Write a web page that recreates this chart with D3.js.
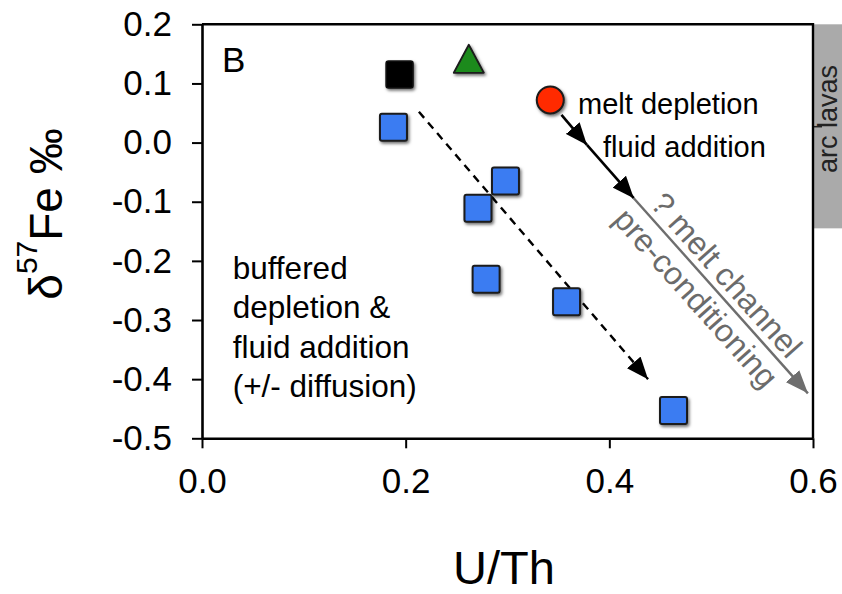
<!DOCTYPE html>
<html>
<head>
<meta charset="utf-8">
<script src="https://cdn.jsdelivr.net/npm/d3@7/dist/d3.min.js"></script>
<style>
	body { margin: 0; background: #fff; }
	text { font-family: "Liberation Sans", Arial, Helvetica, sans-serif; }
</style>
</head>
<body>
<svg id="chart" width="842" height="594"></svg>
<script>
// axis ticks
var xTicks = [0.0, 0.2, 0.4, 0.6];
var xTickLabels = ["0.0", "0.2", "0.4", "0.6"];
var yTicks = [0.2, 0.1, 0.0, -0.1, -0.2, -0.3, -0.4, -0.5];
var yTickLabels = ["0.2", "0.1", "0.0", "-0.1", "-0.2", "-0.3", "-0.4", "-0.5"];

// samples (U/Th, d57Fe)
var blueU  = [0.188, 0.298, 0.271, 0.279, 0.358, 0.463];
var blueFe = [0.026, -0.065, -0.111, -0.231, -0.269, -0.453];
var blackU  = [0.194];
var blackFe = [0.115];
var greenU  = [0.262];
var greenFe = [0.140];
var redU  = [0.342];
var redFe = [0.072];

// trend arrows
var dashedArrow  = [[0.213, 0.052], [0.438, -0.400]];
var meltArrow    = [[0.353, 0.047], [0.378, -0.004], [0.424, -0.094]];
var channelArrow = [[0.424, -0.094], [0.595, -0.424]];

// arc lavas range (d57Fe)
var arcLavas = [0.2, -0.145];

var svg = d3.select("#chart");

var x = d3.scaleLinear().domain([0, 0.6]).range([202, 813]);
var y = d3.scaleLinear().domain([0.2, -0.5]).range([24.3, 438.3]);

/*
 * drop shadow and arrow heads
 */
var defs = svg.append("defs");
var f = defs.append("filter").attr("id", "shadow")
	.attr("x", "-40%").attr("y", "-40%").attr("width", "180%").attr("height", "180%");
f.append("feDropShadow")
	.attr("dx", 1.5).attr("dy", 2).attr("stdDeviation", 1.8)
	.attr("flood-color", "#000").attr("flood-opacity", 0.55);

function marker(id, color, len, half) {
	defs.append("marker")
		.attr("id", id)
		.attr("markerUnits", "userSpaceOnUse")
		.attr("viewBox", (-len) + " " + (-half) + " " + len + " " + (2 * half))
		.attr("refX", 0).attr("refY", 0)
		.attr("markerWidth", len).attr("markerHeight", 2 * half)
		.attr("orient", "auto")
		.append("path")
			.attr("d", "M0,0L" + (-len) + "," + (-half) + "L" + (-len) + "," + half + "Z")
			.attr("fill", color)
			.attr("stroke", "none");
}
marker("headBlack", "#000", 22, 9);
marker("headGray", "#6e6e6e", 23, 9);

// arc lavas bar
svg.append("rect")
	.attr("x", x(0.6))
	.attr("y", y(arcLavas[0]))
	.attr("width", 842 - x(0.6))
	.attr("height", y(arcLavas[1]) - y(arcLavas[0]))
	.attr("fill", "#aaaaaa");
svg.append("line")
	.attr("x1", x(0.6)).attr("x2", x(0.6) + 9)
	.attr("y1", 126.7).attr("y2", 126.7)
	.attr("stroke", "#222").attr("stroke-width", 1.5);
svg.append("text")
	.attr("transform", "translate(837,119) rotate(-90)")
	.attr("text-anchor", "middle")
	.attr("font-size", 27)
	.attr("fill", "#222")
	.text("arc lavas");

/*
 * axes and frame
 */
var xAxis = d3.axisBottom(x)
	.tickValues(xTicks)
	.tickSize(10)
	.tickSizeOuter(0)
	.tickPadding(20)
	.tickFormat(function(d, i) { return xTickLabels[i]; });

var yAxis = d3.axisLeft(y)
	.tickValues(yTicks)
	.tickSize(10)
	.tickSizeOuter(0)
	.tickPadding(20)
	.tickFormat(function(d, i) { return yTickLabels[i]; });

var gx = svg.append("g").attr("transform", "translate(0," + y(-0.5) + ")").call(xAxis);
var gy = svg.append("g").attr("transform", "translate(" + x(0) + ",0)").call(yAxis);

[gx, gy].forEach(function(g) {
	g.select(".domain").attr("stroke", "#000").attr("stroke-width", 2.6);
	g.selectAll(".tick line").attr("stroke", "#000").attr("stroke-width", 2);
	g.selectAll(".tick text")
		.attr("font-size", 35)
		.attr("font-family", "'Liberation Sans', Arial, sans-serif")
		.attr("fill", "#000");
});

svg.append("path")
	.attr("d", "M" + x(0) + "," + y(0.2) + "H" + x(0.6) + "V" + y(-0.5))
	.attr("fill", "none")
	.attr("stroke", "#000")
	.attr("stroke-width", 2.4);

// axis titles
svg.append("text")
	.attr("x", 504)
	.attr("y", 584)
	.attr("text-anchor", "middle")
	.attr("font-size", 47)
	.text("U/Th");

var ylab = svg.append("text")
	.attr("transform", "translate(62,214) rotate(-90)")
	.attr("text-anchor", "middle")
	.attr("font-size", 46);
ylab.append("tspan").text("\u03b4");
ylab.append("tspan").attr("font-size", 30).attr("dy", -25).text("57");
ylab.append("tspan").attr("dy", 25).text("Fe \u2030");

/*
 * arrows
 */
var line = d3.line()
	.x(function(d) { return x(d[0]); })
	.y(function(d) { return y(d[1]); });

svg.append("path")
	.attr("d", line(dashedArrow))
	.attr("fill", "none")
	.attr("stroke", "#000")
	.attr("stroke-width", 2.4)
	.attr("stroke-dasharray", "8,6")
	.attr("marker-end", "url(#headBlack)");

svg.append("path")
	.attr("d", line(channelArrow))
	.attr("fill", "none")
	.attr("stroke", "#6e6e6e")
	.attr("stroke-width", 2.4)
	.attr("marker-end", "url(#headGray)");

for (var i = 0; i < meltArrow.length - 1; i++) {
	svg.append("path")
		.attr("d", line([meltArrow[i], meltArrow[i + 1]]))
		.attr("fill", "none")
		.attr("stroke", "#000")
		.attr("stroke-width", 2.6)
		.attr("marker-end", "url(#headBlack)");
}

// diagonal labels along the channel arrow
var p0 = [x(channelArrow[0][0]), y(channelArrow[0][1])];
var p1 = [x(channelArrow[1][0]), y(channelArrow[1][1])];
var angle = Math.atan2(p1[1] - p0[1], p1[0] - p0[0]) * 180 / Math.PI;
var diag = svg.append("g")
	.attr("transform", "translate(" + p0[0] + "," + p0[1] + ") rotate(" + angle + ")");
diag.append("text")
	.attr("x", 119).attr("y", -7)
	.attr("text-anchor", "middle")
	.attr("font-size", 32)
	.attr("fill", "#6b6b6b")
	.text("? melt channel");
diag.append("text")
	.attr("x", 116).attr("y", 31)
	.attr("text-anchor", "middle")
	.attr("font-size", 32)
	.attr("fill", "#6b6b6b")
	.text("pre-conditioning");

/*
 * sample symbols
 */
var blue = blueU.map(function(d, i) { return [d, blueFe[i]]; });
svg.append("g").selectAll("rect")
	.data(blue).enter()
	.append("rect")
		.attr("x", function(d) { return x(d[0]) - 13.5; })
		.attr("y", function(d) { return y(d[1]) - 13.5; })
		.attr("width", 27)
		.attr("height", 27)
		.attr("rx", 2)
		.attr("fill", "#3b7cf2")
		.attr("stroke", "#1a1a1a")
		.attr("stroke-width", 2)
		.attr("filter", "url(#shadow)");

var black = blackU.map(function(d, i) { return [d, blackFe[i]]; });
svg.append("g").selectAll("rect")
	.data(black).enter()
	.append("rect")
		.attr("x", function(d) { return x(d[0]) - 13.5; })
		.attr("y", function(d) { return y(d[1]) - 13.5; })
		.attr("width", 27)
		.attr("height", 27)
		.attr("rx", 2.5)
		.attr("fill", "#000")
		.attr("stroke", "#111")
		.attr("stroke-width", 1.5)
		.attr("filter", "url(#shadow)");

var green = greenU.map(function(d, i) { return [d, greenFe[i]]; });
svg.append("g").selectAll("path")
	.data(green).enter()
	.append("path")
		.attr("transform", function(d) { return "translate(" + x(d[0]) + "," + y(d[1]) + ")"; })
		.attr("d", "M0,-15L15,13L-15,13Z")
		.attr("fill", "#1c8a1c")
		.attr("stroke", "#1a1a1a")
		.attr("stroke-width", 1.8)
		.attr("stroke-linejoin", "round")
		.attr("filter", "url(#shadow)");

var red = redU.map(function(d, i) { return [d, redFe[i]]; });
svg.append("g").selectAll("circle")
	.data(red).enter()
	.append("circle")
		.attr("cx", function(d) { return x(d[0]); })
		.attr("cy", function(d) { return y(d[1]); })
		.attr("r", 13.5)
		.attr("fill", "#ff2a00")
		.attr("stroke", "#1a1a1a")
		.attr("stroke-width", 2)
		.attr("filter", "url(#shadow)");

/*
 * annotation text
 */
svg.append("text")
	.attr("x", x(0.0196)).attr("y", y(0.1197))
	.attr("font-size", 35)
	.text("B");

svg.append("text")
	.attr("x", x(0.3693)).attr("y", y(0.0479))
	.attr("font-size", 29)
	.text("melt depletion");
svg.append("text")
	.attr("x", x(0.3938)).attr("y", y(-0.0238))
	.attr("font-size", 29)
	.text("fluid addition");

var leftLines = ["buffered", "depletion &", "fluid addition", "(+/- diffusion)"];
svg.append("g").selectAll("text")
	.data(leftLines).enter()
	.append("text")
		.attr("x", x(0.0301))
		.attr("y", function(d, i) { return y(-0.2306) + i * 39.5; })
		.attr("font-size", 31.5)
		.text(function(d) { return d; });
</script>
</body>
</html>
